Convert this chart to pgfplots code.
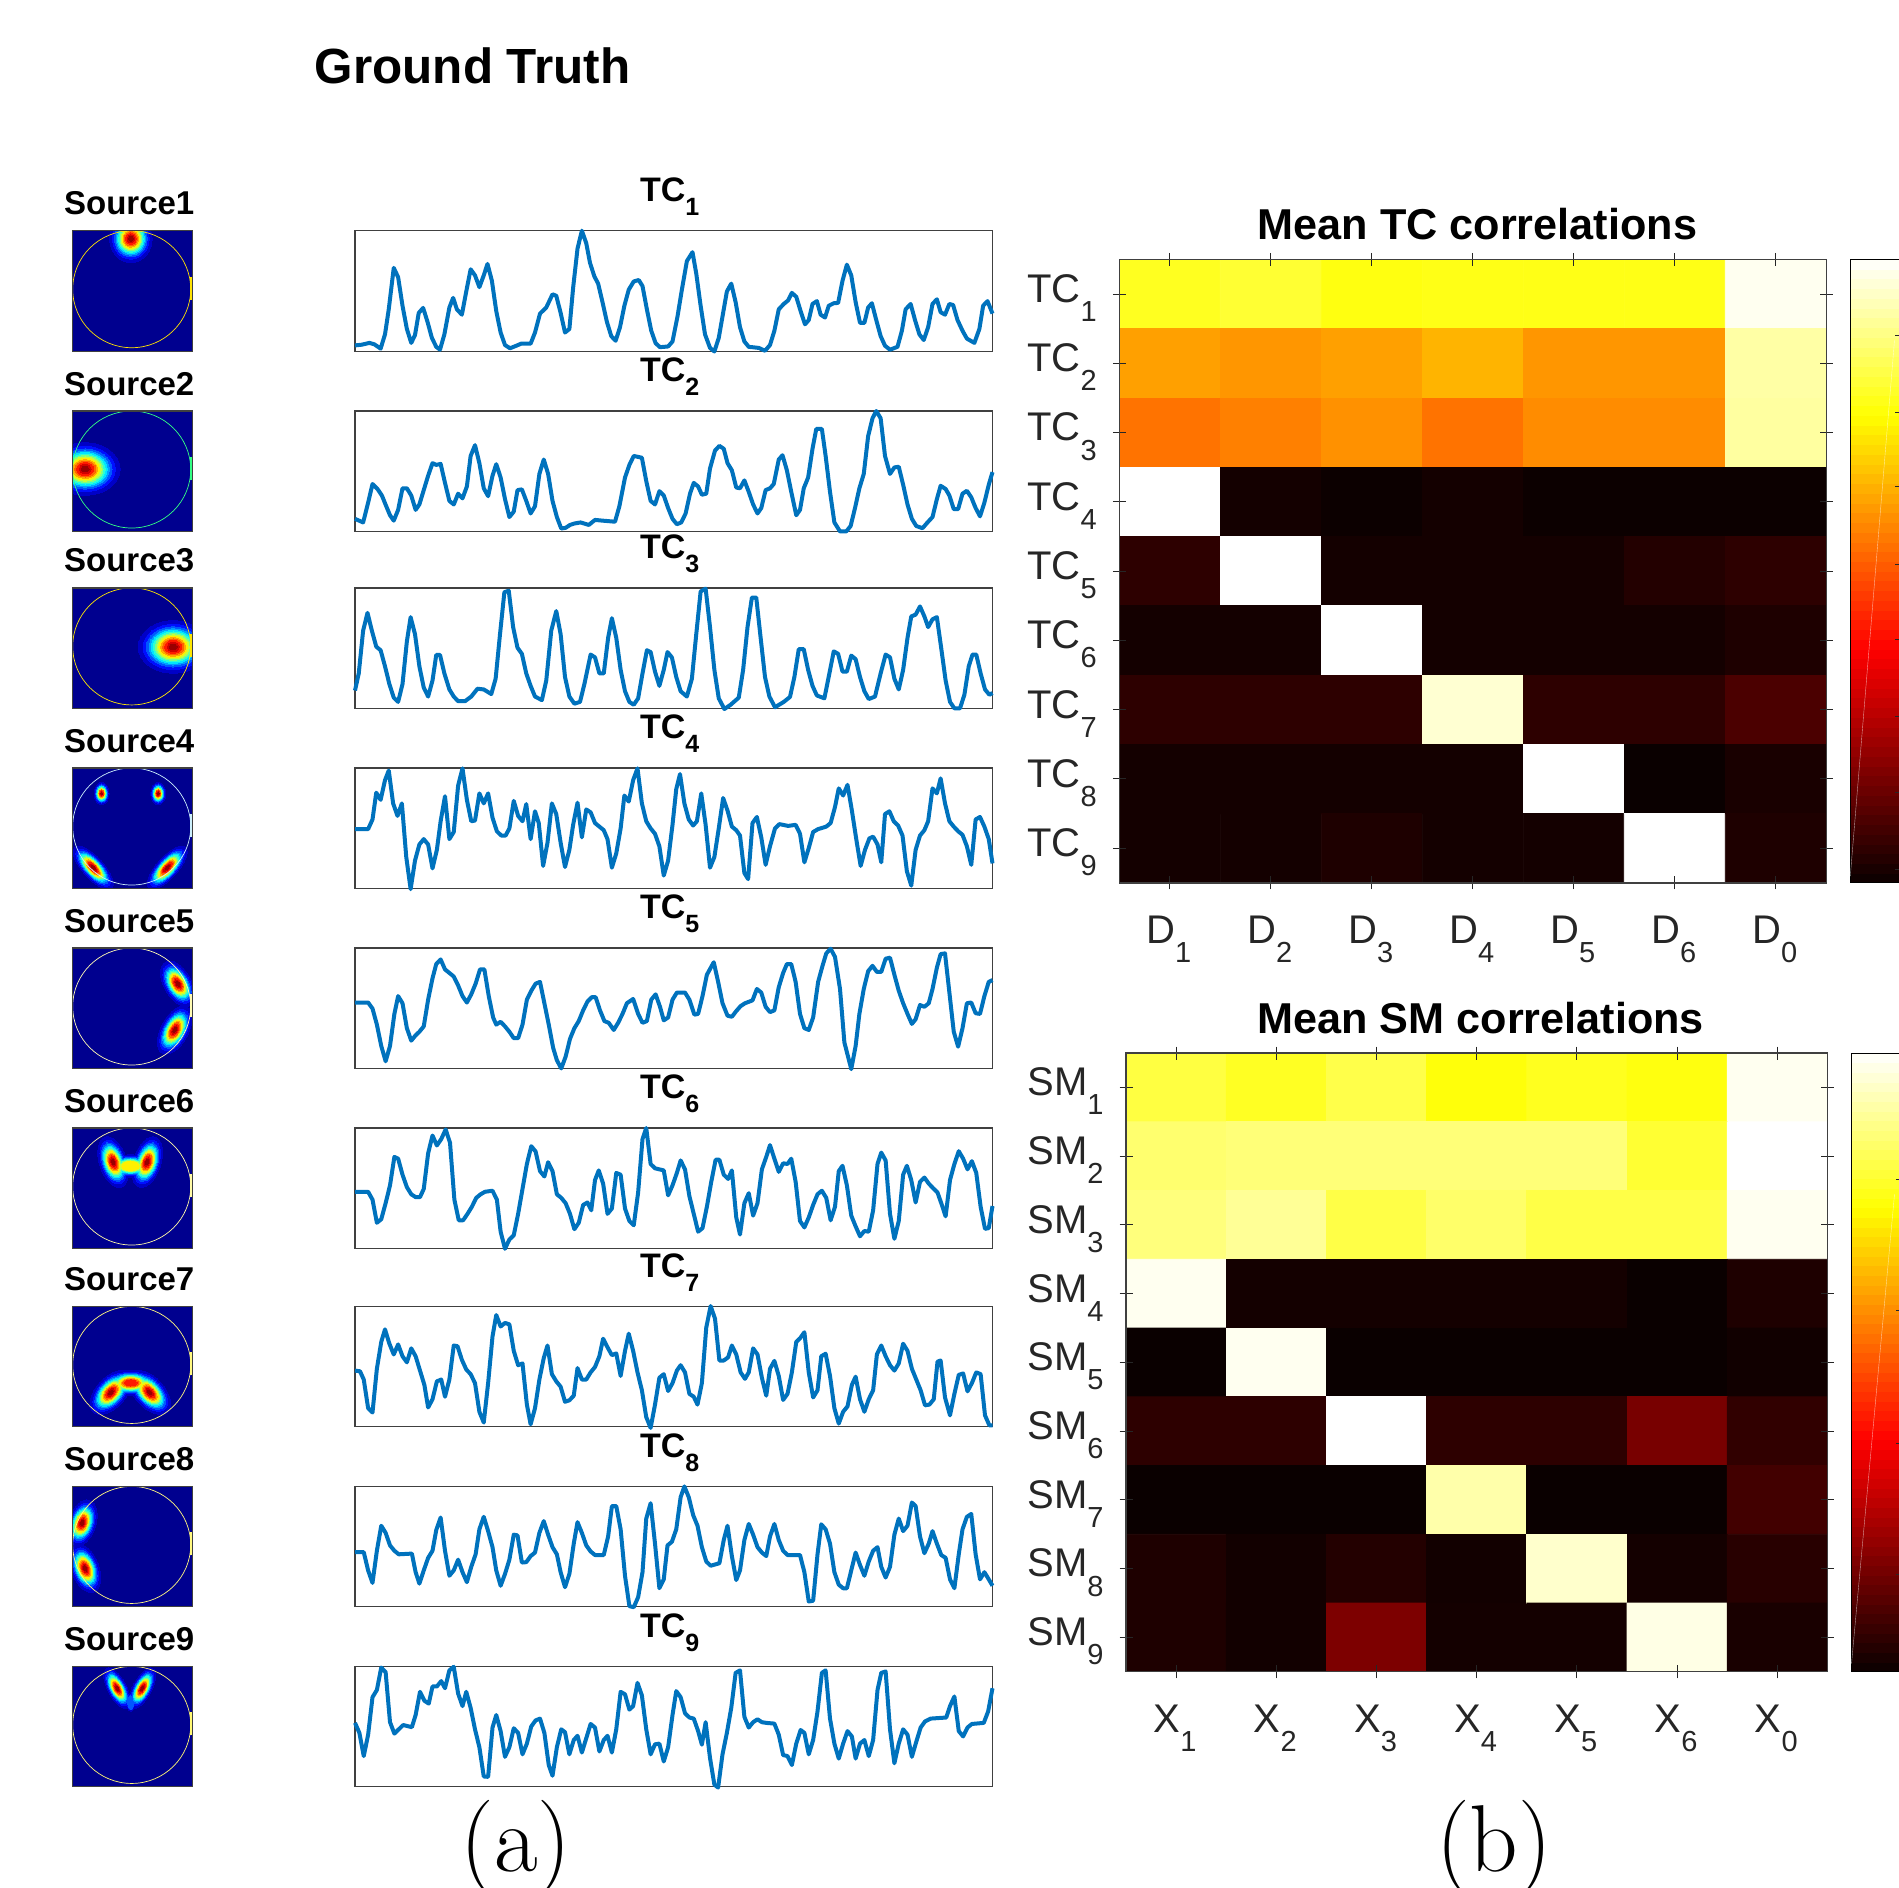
\documentclass[border=0pt]{standalone}
\usepackage{fontspec}
\setmainfont{Liberation Sans}
\usepackage{pgfplots}
\pgfplotsset{compat=1.18}
\definecolor{jbg}{rgb}{0,0,.56}
\definecolor{j1}{rgb}{0,0,.78}
\definecolor{j2}{rgb}{0,.06,1}
\definecolor{j3}{rgb}{0,.34,1}
\definecolor{j4}{rgb}{0,.62,1}
\definecolor{j5}{rgb}{0,.9,1}
\definecolor{j6}{rgb}{.18,1,.82}
\definecolor{j7}{rgb}{.5,1,.5}
\definecolor{j8}{rgb}{.78,1,.22}
\definecolor{j9}{rgb}{1,.94,0}
\definecolor{j10}{rgb}{1,.66,0}
\definecolor{j11}{rgb}{1,.38,0}
\definecolor{j12}{rgb}{1,.1,0}
\definecolor{j13}{rgb}{.82,0,0}
\definecolor{j14}{rgb}{.6,0,0}
\definecolor{tcblue}{HTML}{0072BD}
\definecolor{framec}{HTML}{404040}
\definecolor{tickc}{HTML}{262626}
\newcommand\bl[7]{\addplot[only marks,forget plot,mark=*,mark size=0.5pt,mark options={draw=#6,fill=#6,line width=0pt,rotate=#5,xscale=1.25*#3*#7,yscale=1.25*#4*#7}] coordinates {(#1,#2)};}
\newcommand\levels[1]{#1{j1}{1}{1}#1{j2}{.86}{2}#1{j3}{.766}{3}#1{j4}{.69}{4}#1{j5}{.628}{5}#1{j6}{.571}{6}#1{j7}{.51}{7}#1{j8}{.46}{8}#1{j9}{.41}{9}#1{j10}{.359}{10}#1{j11}{.305}{11}#1{j12}{.247}{12}#1{j13}{.177}{13}#1{j14}{.11}{14}}
\def\sA#1#2#3{\bl{58.7}{8}{17}{19}{0}{#1}{#2}}
\def\sB#1#2#3{\bl{13}{58}{28}{21}{0}{#1}{#2}}
\def\sC#1#2#3{\bl{101}{59}{28}{21}{0}{#1}{#2}}
\def\sD#1#2#3{\bl{29.4}{25.4}{6}{9}{0}{#1}{#2}\bl{86}{25.4}{6}{9}{0}{#1}{#2}\bl{21}{99.6}{22}{8.5}{-48}{#1}{#2}\bl{95}{99.6}{22}{8.5}{48}{#1}{#2}}
\def\sE#1#2#3{\bl{105.6}{35.7}{20}{11}{-60}{#1}{#2}\bl{102.5}{82}{21}{11}{62}{#1}{#2}}
\def\sF#1#2#3{\bl{41}{34}{21}{11}{-72}{#1}{#2}\bl{75}{34}{21}{11}{72}{#1}{#2}\ifnum#3<10 \bl{58.2}{38}{17}{9}{0}{#1}{#2}\fi}
\def\sG#1#2#3{\bl{38.6}{86}{21}{12}{48}{#1}{#2}\bl{77.5}{86}{21}{12}{-48}{#1}{#2}\ifnum#3<13 \bl{58.5}{76.5}{21}{10}{0}{#1}{#2}\fi}
\def\sH#1#2#3{\bl{10}{36.4}{19}{11}{72}{#1}{#2}\bl{13}{82}{20}{11}{-70}{#1}{#2}}
\def\sI#1#2#3{\bl{45}{21.8}{18}{7.5}{-62}{#1}{#2}\bl{70}{21.8}{18}{7.5}{62}{#1}{#2}\ifnum#3<4 \bl{58.5}{36}{3}{7}{0}{#1}{#2}\fi}
\pgfplotsset{
 every axis title shift=0pt,
 srcax/.style={scale only axis,width=60.25pt,height=60.2pt,xmin=0,xmax=120.5,ymin=0,ymax=120.4,y dir=reverse,xtick=\empty,ytick=\empty,anchor=north west,clip mode=global,clip marker paths=true,axis background/.style={fill=jbg},axis line style={draw=framec,line width=.6pt},axis on top,
 title style={at={(0,1)},anchor=base west,xshift=-4.25pt,yshift=8pt,inner sep=0pt,font=\bfseries\fontsize{16.5pt}{18pt}\selectfont}},
 tcax/.style={scale only axis,width=318.75pt,height=60.2pt,xmin=504,xmax=1524,y dir=reverse,xtick=\empty,ytick=\empty,anchor=north west,clip=false,axis line style={draw=framec,line width=.6pt},
 title style={at={(.5,1)},anchor=base,xshift=-2pt,yshift=14.6pt,inner sep=0pt,font=\bfseries\fontsize{17pt}{18pt}\selectfont}},
 tcline/.style={draw=tcblue,line width=2pt,line join=round,no marks},
 heat/.style={scale only axis,anchor=north west,xmin=.5,xmax=7.5,ymin=.5,ymax=9.5,y dir=reverse,xtick={1,...,7},ytick={1,...,9},axis on top,tick align=center,major tick length=6.5pt,tick style={draw=tickc,line width=.5pt},axis line style={draw=framec,line width=.6pt},
 tick label style={font=\fontsize{20pt}{21pt}\selectfont,text=tickc},xticklabel style={xshift=-.5pt,yshift=-9.6pt},yticklabel style={xshift=-4.5pt,yshift=-2pt},
 colormap={hotm}{rgb255(0cm)=(10,0,0) rgb255(3.75cm)=(255,0,0) rgb255(7.5cm)=(255,255,0) rgb255(10cm)=(255,255,255)},
 point meta min=0,point meta max=1,
 title style={at={(.5,1)},anchor=base,yshift=10pt,inner sep=0pt,font=\bfseries\fontsize{21.6pt}{23pt}\selectfont},
 colorbar sampled,colorbar shift/.style={}},
 mat/.style={matrix plot*,mesh/cols=7,mesh/rows=9,point meta=explicit,draw=none}
}
\newcommand\sub[1]{\raisebox{-9.6pt}{\fontsize{14.5pt}{15pt}\selectfont #1}}
\newcommand\subb[1]{\raisebox{-7pt}{\fontsize{12.5pt}{13pt}\selectfont #1}}
\newcommand\src[4]{\begin{axis}[srcax,at={(36.1pt,-#1pt)},title={Source#2}]
\levels{#3}
\addplot[only marks,forget plot,mark=o,mark size=0.5pt,mark options={draw=#4,fill=none,line width=.35pt,xscale=59,yscale=58.5}] coordinates {(59.5,58.5)};
\addplot[forget plot,draw=#4,line width=1.5pt,no marks] coordinates {(119.2,46)(119.2,69)};
\end{axis}}
\newcommand\tc[5]{\begin{axis}[tcax,at={(177.5pt,-#1pt)},ymin=#3,ymax=#4,title={TC\subb{#2}}]
\addplot[tcline] coordinates {#5};
\end{axis}}
\begin{document}
\begin{tikzpicture}
\path[use as bounding box] (0,0) rectangle (949.5pt,-943.5pt);
\node[anchor=base,inner sep=0pt,font=\bfseries\fontsize{24.7pt}{26pt}\selectfont] at (236.3pt,-41.9pt) {Ground Truth};
\node[anchor=base,inner sep=0pt] at (258pt,-935.5pt) {\usefont{TU}{lmr}{m}{n}\fontsize{47.5pt}{49pt}\selectfont (a)};
\node[anchor=base,inner sep=0pt] at (747pt,-935.5pt) {\usefont{TU}{lmr}{m}{n}\fontsize{47.5pt}{49pt}\selectfont (b)};
\src{115.35}{1}{\sA}{yellow!85!orange}
\src{205.5}{2}{\sB}{green!60!cyan!80!white}
\src{293.95}{3}{\sC}{yellow!90!orange}
\src{384}{4}{\sD}{white!80!cyan}
\src{474}{5}{\sE}{white!70!yellow}
\src{564}{6}{\sF}{white!65!yellow}
\src{653.2}{7}{\sG}{white!50!yellow}
\src{743.2}{8}{\sH}{white!50!yellow}
\src{833.2}{9}{\sI}{white!45!yellow}
\tc{115.35}{1}{170}{507}{(504,491)(515,489)(527,484)(535,488)(545,500)(552,460)(558,390)(566,274)(573,300)(580,380)(587,445)(594,484)(600,462)(606,400)(613,386)(620,425)(627,470)(634,495)(640,503)(647,460)(655,385)(661,358)(667,390)(675,405)(682,340)(689,278)(696,295)(703,328)(710,295)(716,263)(723,310)(730,395)(737,455)(744,490)(752,499)(762,492)(770,486)(785,486)(792,455)(800,402)(810,385)(820,348)(826,352)(833,400)(840,455)(847,445)(853,330)(860,220)(867,170)(874,205)(880,260)(887,298)(893,318)(900,370)(907,425)(914,465)(921,478)(928,440)(935,380)(942,335)(950,312)(958,308)(964,325)(971,390)(978,450)(985,485)(992,496)(1005,494)(1012,480)(1020,410)(1027,335)(1035,255)(1044,230)(1050,290)(1057,380)(1064,460)(1072,498)(1079,508)(1086,470)(1093,400)(1099,340)(1106,318)(1113,370)(1120,440)(1127,480)(1134,495)(1150,498)(1160,506)(1168,490)(1175,450)(1182,390)(1190,375)(1197,365)(1203,344)(1210,355)(1217,395)(1224,432)(1230,420)(1236,375)(1243,367)(1249,405)(1256,413)(1262,380)(1270,373)(1277,372)(1284,310)(1291,265)(1298,295)(1305,370)(1312,428)(1319,428)(1325,385)(1331,373)(1338,420)(1345,465)(1352,492)(1360,503)(1372,495)(1379,450)(1385,390)(1393,375)(1400,420)(1407,460)(1414,476)(1421,440)(1428,375)(1435,362)(1441,398)(1448,405)(1455,375)(1461,378)(1468,420)(1476,450)(1483,472)(1495,484)(1503,445)(1509,380)(1516,367)(1524,402)}
\tc{205.5}{2}{675}{1010}{(504,975)(517,985)(525,930)(532,878)(540,892)(547,910)(554,940)(560,965)(566,980)(573,950)(580,890)(587,890)(594,910)(601,950)(607,935)(614,895)(621,855)(628,820)(634,825)(641,822)(648,875)(655,925)(662,935)(669,905)(676,918)(683,885)(689,800)(696,770)(703,820)(710,890)(717,912)(724,855)(730,823)(737,860)(744,920)(751,970)(758,955)(764,895)(771,893)(778,925)(785,960)(792,940)(799,850)(806,810)(813,850)(820,925)(827,970)(834,1002)(841,1000)(848,992)(855,988)(865,985)(878,992)(888,978)(900,980)(920,983)(927,940)(936,860)(943,825)(950,800)(963,805)(970,870)(977,925)(984,935)(991,898)(998,910)(1005,945)(1012,975)(1019,990)(1026,985)(1033,960)(1040,905)(1046,875)(1053,885)(1059,908)(1066,905)(1072,835)(1080,785)(1087,772)(1094,780)(1100,820)(1107,840)(1114,888)(1120,890)(1127,868)(1134,900)(1141,935)(1148,960)(1154,945)(1161,895)(1168,890)(1174,878)(1182,810)(1188,798)(1195,840)(1202,900)(1210,965)(1216,950)(1222,890)(1229,860)(1236,780)(1242,725)(1251,725)(1257,800)(1264,900)(1271,985)(1280,1010)(1290,1010)(1297,995)(1304,945)(1311,890)(1318,850)(1325,745)(1332,695)(1338,675)(1345,695)(1352,800)(1360,850)(1367,832)(1374,830)(1381,880)(1388,935)(1395,975)(1402,995)(1412,1001)(1420,985)(1428,970)(1435,920)(1441,883)(1449,892)(1455,910)(1462,948)(1469,948)(1476,905)(1483,897)(1490,915)(1497,945)(1504,968)(1511,930)(1518,880)(1524,845)}
\tc{293.95}{3}{1170}{1508}{(504,1458)(510,1410)(517,1290)(524,1240)(531,1290)(538,1335)(545,1345)(552,1390)(559,1440)(566,1478)(573,1490)(580,1440)(587,1320)(593,1252)(600,1300)(607,1390)(614,1450)(621,1475)(628,1430)(634,1358)(640,1358)(647,1410)(655,1455)(662,1475)(669,1488)(680,1488)(690,1475)(700,1453)(710,1455)(722,1468)(729,1425)(736,1300)(743,1182)(750,1178)(757,1280)(764,1338)(771,1355)(778,1410)(785,1445)(792,1475)(803,1485)(810,1430)(818,1290)(826,1235)(833,1300)(840,1420)(847,1475)(855,1495)(864,1490)(871,1440)(881,1357)(888,1365)(895,1410)(902,1410)(909,1310)(915,1255)(922,1310)(929,1400)(936,1460)(943,1490)(950,1498)(957,1480)(964,1410)(971,1345)(977,1350)(984,1405)(991,1445)(998,1400)(1004,1350)(1011,1365)(1018,1420)(1025,1460)(1035,1475)(1043,1425)(1050,1300)(1057,1180)(1065,1172)(1072,1280)(1079,1400)(1086,1480)(1095,1510)(1105,1498)(1118,1478)(1125,1400)(1132,1280)(1139,1197)(1146,1197)(1153,1310)(1160,1420)(1167,1475)(1176,1505)(1190,1490)(1200,1476)(1207,1420)(1214,1342)(1222,1342)(1229,1400)(1236,1445)(1243,1472)(1255,1480)(1263,1410)(1270,1348)(1277,1355)(1284,1405)(1291,1405)(1298,1360)(1305,1370)(1312,1420)(1319,1460)(1326,1482)(1336,1475)(1345,1410)(1353,1357)(1360,1365)(1367,1425)(1374,1455)(1381,1400)(1388,1310)(1394,1250)(1401,1245)(1408,1222)(1415,1250)(1421,1280)(1428,1258)(1435,1252)(1442,1340)(1449,1430)(1456,1490)(1463,1508)(1472,1508)(1479,1470)(1486,1390)(1492,1357)(1498,1357)(1505,1410)(1512,1455)(1519,1470)(1524,1465)}
\tc{384}{4}{191}{528}{(504,362)(525,362)(532,335)(538,260)(545,280)(552,225)(558,198)(565,290)(572,325)(579,290)(586,440)(593,530)(600,450)(607,405)(614,390)(621,405)(628,472)(635,420)(641,340)(648,270)(655,390)(662,370)(669,240)(676,192)(683,280)(690,340)(696,338)(703,262)(710,290)(717,262)(724,330)(731,368)(738,380)(745,380)(751,360)(758,283)(765,325)(772,340)(778,292)(785,390)(792,312)(798,345)(805,465)(812,400)(819,290)(826,320)(833,400)(840,468)(847,420)(853,350)(860,288)(867,385)(874,307)(881,315)(888,345)(895,355)(902,365)(908,390)(915,470)(922,430)(929,360)(935,268)(942,285)(949,225)(956,192)(963,290)(970,340)(977,360)(984,375)(991,410)(998,492)(1005,450)(1012,350)(1018,250)(1024,208)(1031,290)(1038,335)(1045,352)(1051,340)(1058,262)(1065,350)(1072,470)(1079,440)(1086,360)(1093,275)(1100,310)(1107,355)(1114,365)(1120,380)(1127,485)(1133,502)(1140,345)(1147,328)(1154,385)(1161,462)(1168,410)(1176,360)(1183,348)(1197,353)(1209,350)(1216,375)(1223,455)(1230,415)(1237,370)(1245,362)(1258,355)(1265,345)(1272,300)(1278,248)(1285,268)(1292,238)(1299,310)(1306,390)(1313,465)(1320,420)(1327,388)(1333,383)(1340,405)(1346,455)(1352,320)(1359,312)(1366,340)(1373,352)(1380,380)(1387,480)(1394,520)(1401,420)(1408,380)(1415,365)(1421,340)(1428,248)(1435,262)(1441,220)(1448,290)(1455,340)(1462,355)(1469,368)(1476,378)(1483,410)(1490,462)(1497,335)(1504,328)(1511,355)(1518,390)(1524,458)}
\tc{474}{5}{695}{1033}{(504,848)(525,848)(532,865)(539,910)(546,970)(553,1013)(560,970)(567,880)(573,830)(580,850)(587,920)(594,955)(601,940)(607,930)(614,915)(621,840)(628,780)(634,740)(641,727)(648,755)(655,765)(662,775)(669,800)(676,830)(683,848)(690,825)(697,795)(704,755)(711,755)(718,830)(725,890)(730,910)(737,902)(744,915)(751,930)(758,948)(765,948)(772,910)(779,840)(786,815)(793,795)(800,790)(807,850)(814,910)(821,975)(827,1010)(834,1033)(841,1000)(848,950)(855,920)(862,900)(869,870)(876,845)(883,833)(889,833)(896,870)(903,900)(910,905)(918,925)(925,905)(932,880)(939,850)(949,838)(957,880)(964,905)(971,900)(978,840)(985,825)(992,860)(998,898)(1005,890)(1012,840)(1019,820)(1032,820)(1039,840)(1047,882)(1053,880)(1060,830)(1067,770)(1078,735)(1085,790)(1092,850)(1100,885)(1107,888)(1114,872)(1121,858)(1128,850)(1140,842)(1147,810)(1154,820)(1161,860)(1168,875)(1175,870)(1182,805)(1189,765)(1195,740)(1202,740)(1209,790)(1216,880)(1223,920)(1230,925)(1237,890)(1245,790)(1252,745)(1258,710)(1265,697)(1272,720)(1280,810)(1287,960)(1298,1035)(1305,970)(1311,880)(1318,810)(1325,760)(1332,745)(1339,762)(1346,762)(1353,725)(1360,722)(1367,770)(1374,815)(1381,850)(1388,880)(1395,908)(1401,895)(1408,855)(1415,860)(1422,850)(1428,810)(1435,750)(1441,712)(1448,710)(1455,820)(1462,930)(1469,972)(1476,920)(1483,850)(1490,848)(1497,878)(1504,880)(1511,830)(1518,790)(1524,785)}
\tc{564}{6}{1199}{1537}{(504,1378)(525,1378)(532,1400)(539,1465)(546,1455)(553,1410)(560,1360)(567,1280)(573,1285)(580,1330)(587,1365)(594,1385)(601,1393)(608,1393)(614,1370)(621,1270)(628,1220)(635,1248)(642,1230)(649,1203)(656,1240)(663,1400)(670,1458)(677,1458)(684,1440)(691,1420)(698,1395)(705,1385)(712,1378)(724,1375)(731,1400)(737,1490)(744,1538)(751,1512)(758,1500)(765,1440)(772,1370)(779,1300)(786,1250)(793,1265)(800,1320)(807,1335)(813,1295)(820,1320)(827,1385)(834,1395)(841,1410)(848,1440)(855,1483)(862,1465)(869,1415)(876,1408)(882,1430)(888,1345)(894,1318)(901,1355)(908,1440)(915,1425)(922,1325)(929,1330)(936,1425)(943,1460)(950,1472)(957,1380)(964,1230)(970,1199)(977,1300)(984,1312)(998,1318)(1005,1388)(1012,1360)(1019,1325)(1025,1290)(1032,1315)(1039,1390)(1046,1440)(1053,1490)(1060,1480)(1067,1420)(1074,1350)(1081,1288)(1087,1288)(1094,1330)(1101,1342)(1107,1318)(1114,1450)(1120,1498)(1127,1410)(1134,1382)(1141,1445)(1148,1410)(1155,1315)(1162,1280)(1168,1247)(1175,1285)(1182,1322)(1189,1298)(1196,1300)(1202,1285)(1209,1350)(1216,1460)(1223,1478)(1230,1450)(1237,1415)(1244,1385)(1251,1375)(1258,1395)(1265,1458)(1272,1420)(1278,1320)(1284,1305)(1291,1360)(1298,1445)(1305,1475)(1312,1503)(1319,1488)(1326,1490)(1333,1430)(1340,1300)(1346,1268)(1353,1290)(1360,1440)(1367,1510)(1374,1460)(1381,1330)(1387,1305)(1394,1345)(1401,1408)(1408,1350)(1415,1338)(1422,1355)(1429,1368)(1436,1380)(1442,1410)(1449,1447)(1456,1345)(1463,1300)(1470,1264)(1477,1285)(1484,1315)(1491,1292)(1498,1325)(1505,1420)(1512,1482)(1518,1480)(1524,1418)}
\tc{653.2}{7}{186}{522}{(504,365)(512,367)(518,390)(525,470)(532,482)(539,360)(546,285)(552,250)(559,290)(566,320)(573,292)(580,325)(587,342)(594,303)(601,325)(608,365)(615,405)(621,468)(628,445)(635,395)(642,390)(648,438)(655,390)(662,295)(668,297)(675,335)(682,362)(689,375)(696,400)(703,480)(710,510)(717,400)(724,270)(730,210)(737,242)(744,232)(751,236)(758,310)(765,350)(772,345)(779,460)(785,515)(792,470)(799,390)(806,330)(812,295)(819,375)(826,395)(833,410)(840,452)(847,448)(854,435)(860,358)(867,390)(874,390)(881,370)(888,355)(895,325)(901,276)(908,300)(915,322)(922,317)(929,380)(936,310)(942,262)(949,310)(956,370)(963,420)(970,495)(977,525)(984,460)(991,385)(998,375)(1005,422)(1012,400)(1019,365)(1025,350)(1032,370)(1039,430)(1046,438)(1052,460)(1059,400)(1066,245)(1073,185)(1080,220)(1087,337)(1094,337)(1101,328)(1107,295)(1114,320)(1121,370)(1128,388)(1134,370)(1141,303)(1148,320)(1155,385)(1162,435)(1168,360)(1175,338)(1182,380)(1189,447)(1196,430)(1203,370)(1210,285)(1216,275)(1223,258)(1230,370)(1237,440)(1244,420)(1250,325)(1257,318)(1264,380)(1271,470)(1278,513)(1285,480)(1292,465)(1299,405)(1305,382)(1312,445)(1319,480)(1326,445)(1333,420)(1339,320)(1346,295)(1353,325)(1360,350)(1367,365)(1374,345)(1381,290)(1388,310)(1395,360)(1402,390)(1409,420)(1416,462)(1423,460)(1430,445)(1436,340)(1441,337)(1448,440)(1456,490)(1463,430)(1470,377)(1477,373)(1484,423)(1491,400)(1498,370)(1505,375)(1512,490)(1519,518)(1524,518)}
\tc{743.2}{8}{690}{1027}{(504,874)(518,874)(525,925)(532,960)(539,870)(546,800)(553,820)(560,855)(567,870)(574,880)(595,878)(601,930)(607,962)(614,925)(621,890)(628,870)(634,812)(641,777)(648,870)(655,940)(662,925)(669,895)(676,930)(683,958)(690,915)(697,880)(703,810)(710,775)(717,815)(724,860)(730,925)(737,968)(744,935)(751,895)(758,825)(764,827)(771,903)(778,902)(785,885)(792,875)(799,820)(806,787)(813,825)(820,860)(827,880)(833,930)(840,972)(847,935)(854,850)(860,790)(867,820)(874,855)(881,872)(888,882)(902,882)(909,830)(915,745)(922,745)(929,810)(936,940)(943,1025)(950,1028)(957,1000)(964,930)(970,780)(977,737)(984,850)(991,975)(998,950)(1004,855)(1011,845)(1018,810)(1025,720)(1031,690)(1038,720)(1045,770)(1052,800)(1059,860)(1066,900)(1073,912)(1087,905)(1094,840)(1100,800)(1107,885)(1114,952)(1120,925)(1127,840)(1134,795)(1141,825)(1148,860)(1155,875)(1162,885)(1168,830)(1175,795)(1182,840)(1189,870)(1196,882)(1216,882)(1223,930)(1230,1012)(1237,1010)(1244,880)(1250,796)(1257,810)(1264,850)(1271,930)(1278,965)(1285,975)(1291,975)(1298,925)(1305,875)(1312,910)(1319,940)(1326,900)(1333,870)(1340,860)(1346,915)(1353,945)(1360,915)(1367,825)(1374,780)(1381,815)(1388,800)(1395,735)(1401,745)(1408,830)(1415,877)(1422,850)(1428,815)(1435,850)(1442,882)(1449,890)(1456,950)(1463,975)(1470,880)(1476,810)(1483,775)(1490,767)(1497,880)(1504,950)(1511,930)(1518,950)(1524,968)}
\tc{833.2}{9}{1194}{1531}{(504,1352)(511,1380)(518,1445)(525,1385)(532,1280)(539,1260)(546,1197)(553,1210)(560,1350)(567,1382)(574,1370)(581,1358)(595,1364)(601,1330)(608,1265)(615,1290)(622,1298)(628,1250)(635,1250)(642,1235)(648,1255)(655,1205)(662,1195)(669,1270)(676,1305)(682,1265)(689,1310)(696,1370)(703,1420)(710,1502)(717,1503)(724,1365)(730,1330)(737,1375)(744,1447)(751,1420)(758,1367)(765,1380)(772,1440)(779,1410)(786,1362)(793,1345)(800,1340)(807,1380)(814,1470)(820,1500)(827,1420)(834,1370)(840,1378)(847,1440)(854,1400)(860,1388)(867,1435)(874,1395)(881,1355)(888,1365)(895,1432)(902,1400)(908,1388)(915,1435)(922,1370)(929,1265)(936,1272)(943,1315)(949,1305)(956,1240)(963,1275)(970,1370)(977,1440)(984,1412)(991,1410)(998,1460)(1005,1420)(1012,1330)(1018,1263)(1025,1280)(1032,1325)(1039,1337)(1046,1340)(1053,1375)(1059,1413)(1065,1350)(1072,1450)(1079,1525)(1085,1533)(1092,1440)(1099,1380)(1106,1310)(1113,1212)(1120,1205)(1127,1335)(1134,1365)(1141,1350)(1148,1342)(1155,1350)(1162,1352)(1175,1354)(1182,1385)(1189,1442)(1196,1445)(1203,1470)(1210,1410)(1217,1372)(1223,1380)(1230,1440)(1237,1400)(1244,1320)(1251,1212)(1257,1205)(1264,1340)(1271,1410)(1278,1452)(1285,1410)(1292,1375)(1299,1390)(1305,1452)(1312,1410)(1319,1400)(1326,1445)(1333,1400)(1340,1260)(1346,1212)(1353,1208)(1360,1370)(1367,1465)(1374,1410)(1381,1370)(1388,1385)(1395,1447)(1402,1405)(1409,1365)(1416,1348)(1425,1340)(1450,1337)(1456,1305)(1463,1278)(1470,1375)(1477,1390)(1484,1365)(1491,1355)(1510,1352)(1517,1320)(1524,1255)}
\begin{axis}[heat,at={(559.65pt,-129.7pt)},width=353.5pt,height=311.75pt,title={Mean TC correlations},title style={xshift=2.3pt},
 xticklabels={D\sub{1},D\sub{2},D\sub{3},D\sub{4},D\sub{5},D\sub{6},D\sub{0}},
 yticklabels={TC\sub{1},TC\sub{2},TC\sub{3},TC\sub{4},TC\sub{5},TC\sub{6},TC\sub{7},TC\sub{8},TC\sub{9}},
 colorbar style={at={(parent axis.north east)},anchor=north west,xshift=12pt,width=26pt,samples=65,yticklabels={},ytick={.021,.145,.267,.39,.511,.635,.755,.878},ytick pos=right,tick align=inside,major tick length=3.5pt,ylabel={}}]
\addplot[mat] table[row sep=\\,meta=z] {x y z\\
1 1 .781\\2 1 .80\\3 1 .766\\4 1 .772\\5 1 .772\\6 1 .772\\7 1 .985\\
1 2 .61\\2 2 .596\\3 2 .61\\4 2 .64\\5 2 .596\\6 2 .596\\7 2 .912\\
1 3 .544\\2 3 .563\\3 3 .588\\4 3 .544\\5 3 .581\\6 3 .581\\7 3 .907\\
1 4 1\\2 4 .015\\3 4 .003\\4 4 .015\\5 4 .003\\6 4 .003\\7 4 .003\\
1 5 .054\\2 5 1\\3 5 .015\\4 5 .015\\5 5 .015\\6 5 .038\\7 5 .054\\
1 6 .015\\2 6 .015\\3 6 1\\4 6 .015\\5 6 .015\\6 6 .015\\7 6 .03\\
1 7 .054\\2 7 .054\\3 7 .054\\4 7 .956\\5 7 .054\\6 7 .054\\7 7 .10\\
1 8 .015\\2 8 .015\\3 8 .015\\4 8 .015\\5 8 1\\6 8 0\\7 8 .023\\
1 9 .015\\2 9 .015\\3 9 .03\\4 9 .015\\5 9 .015\\6 9 1\\7 9 .03\\
};
\end{axis}
\begin{axis}[heat,at={(563pt,-526.5pt)},width=350.7pt,height=309.4pt,title={Mean SM correlations},title style={xshift=2pt},
 xticklabels={X\sub{1},X\sub{2},X\sub{3},X\sub{4},X\sub{5},X\sub{6},X\sub{0}},
 yticklabels={SM\sub{1},SM\sub{2},SM\sub{3},SM\sub{4},SM\sub{5},SM\sub{6},SM\sub{7},SM\sub{8},SM\sub{9}},
 colorbar style={at={(parent axis.north east)},anchor=north west,xshift=12pt,width=26pt,samples=65,yticklabels={},ytick={.157,.369,.584,.796},ytick pos=right,tick align=inside,major tick length=3.5pt,ylabel={}}]
\addplot[mat] table[row sep=\\,meta=z] {x y z\\
1 1 .814\\2 1 .784\\3 1 .823\\4 1 .76\\5 1 .78\\6 1 .765\\7 1 .985\\
1 2 .858\\2 2 .868\\3 2 .868\\4 2 .868\\5 2 .868\\6 2 .80\\7 2 1\\
1 3 .872\\2 3 .897\\3 3 .82\\4 3 .853\\5 3 .82\\6 3 .82\\7 3 .985\\
1 4 .985\\2 4 .015\\3 4 .015\\4 4 .015\\5 4 .015\\6 4 0\\7 4 .03\\
1 5 0\\2 5 .985\\3 5 0\\4 5 0\\5 5 0\\6 5 0\\7 5 .01\\
1 6 .054\\2 6 .054\\3 6 1\\4 6 .054\\5 6 .054\\6 6 .168\\7 6 .06\\
1 7 0\\2 7 0\\3 7 0\\4 7 .917\\5 7 0\\6 7 0\\7 7 .085\\
1 8 .03\\2 8 .012\\3 8 .038\\4 8 .012\\5 8 .95\\6 8 .015\\7 8 .046\\
1 9 .03\\2 9 .012\\3 9 .176\\4 9 .015\\5 9 .015\\6 9 .975\\7 9 .023\\
};
\end{axis}
\draw[white,opacity=.6,line width=.2pt] (925.15pt,-438pt) -- (947.25pt,-170pt);
\draw[white,opacity=.6,line width=.2pt] (925.75pt,-831.8pt) -- (947.25pt,-597pt);
\end{tikzpicture}
\end{document}
